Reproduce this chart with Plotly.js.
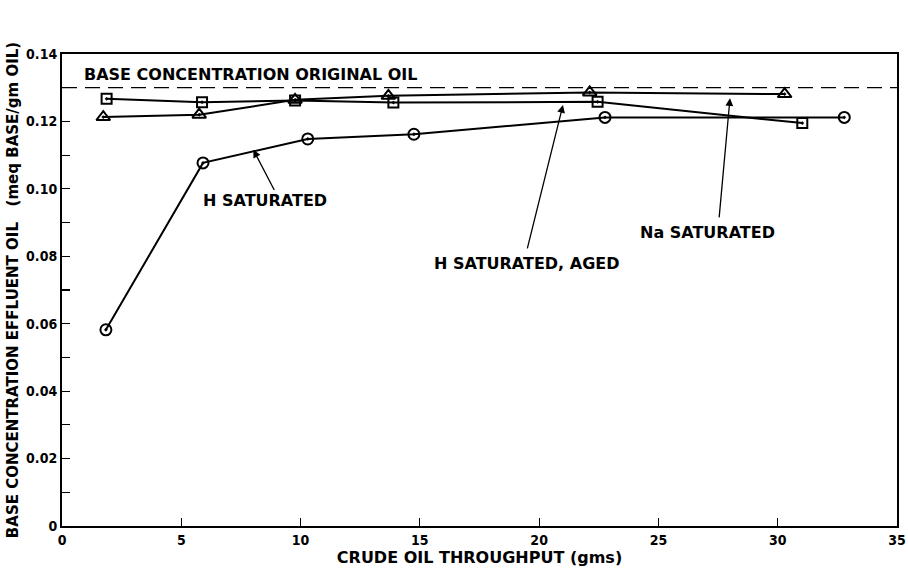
<!DOCTYPE html>
<html>
<head>
<meta charset="utf-8">
<script src="https://cdn.plot.ly/plotly-3.0.1.min.js"></script>
<style>html,body{margin:0;padding:0;background:#fff;}#chart{width:908px;height:569px;}</style>
</head>
<body>
<div id="chart"></div>
<script>
// H SATURATED (circles)
const hSatX = [1.84, 5.91, 10.30, 14.75, 22.76, 32.79];
const hSatY = [0.0582, 0.1077, 0.1148, 0.1162, 0.1212, 0.1212];
// H SATURATED, AGED (squares)
const hAgedX = [1.87, 5.87, 9.77, 13.89, 22.45, 31.03];
const hAgedY = [0.1267, 0.1257, 0.1262, 0.1256, 0.1258, 0.1195];
// Na SATURATED (triangles)
const naSatX = [1.73, 5.75, 9.77, 13.68, 22.12, 30.29];
const naSatY = [0.1213, 0.1220, 0.1264, 0.1276, 0.1286, 0.1281];
// Base concentration of original oil
const baseConcX = [0, 35];
const baseConcY = [0.13, 0.13];

const xTickVals = [0, 5, 10, 15, 20, 25, 30, 35];
const xTickText = ['0', '5', '10', '15', '20', '25', '30', '35'];
const yTickVals = [0, 0.02, 0.04, 0.06, 0.08, 0.10, 0.12, 0.14];
const yTickText = ['0', '0.02', '0.04', '0.06', '0.08', '0.10', '0.12', '0.14'];

const annFont = {family: 'DejaVu Sans, Arial, sans-serif', size: 16, color: '#000', weight: 'bold'};
const xTitleFont = {family: 'DejaVu Sans, Arial, sans-serif', size: 16, color: '#000', weight: 'bold'};
const yTitleFont = {family: 'DejaVu Sans, Arial, sans-serif', size: 15, color: '#000', weight: 'bold'};
const tickFont = {family: 'DejaVu Sans Condensed, Liberation Sans Narrow, Arial Narrow, sans-serif', size: 14, color: '#000', weight: 'bold'};

const lineStyle = {color: '#000', width: 2};
const traces = [
  {x: baseConcX, y: baseConcY, mode: 'lines', line: {color: '#000', width: 1.3, dash: '15px,8px'}, hoverinfo: 'skip'},
  {x: hSatX, y: hSatY, mode: 'lines+markers', line: lineStyle,
   marker: {symbol: 'circle-open-dot', size: 11, color: '#000', line: {color: '#000', width: 2}}},
  {x: hAgedX, y: hAgedY, mode: 'lines+markers', line: lineStyle,
   marker: {symbol: 'square-open-dot', size: 10, color: '#000', line: {color: '#000', width: 2}}},
  {x: naSatX, y: naSatY, mode: 'lines+markers', line: lineStyle,
   marker: {symbol: 'triangle-up-open-dot', size: 12, color: '#000', line: {color: '#000', width: 2}}}
];

const arrowBase = {xref: 'x', yref: 'y', axref: 'x', ayref: 'y', text: '', showarrow: true,
  arrowhead: 2, arrowsize: 1.2, arrowwidth: 1.3, arrowcolor: '#000'};

const layout = {
  width: 908, height: 569,
  margin: {l: 62, r: 11, t: 54, b: 43},
  paper_bgcolor: '#fff', plot_bgcolor: '#fff',
  showlegend: false,
  xaxis: {
    range: [0, 35], tickvals: xTickVals, ticktext: xTickText,
    ticks: 'inside', ticklen: 8, tickwidth: 1.2, tickcolor: '#000',
    showline: true, linecolor: '#000', linewidth: 2, mirror: true,
    showgrid: false, zeroline: false, tickfont: tickFont,
    title: {text: 'CRUDE OIL THROUGHPUT (gms)', font: xTitleFont, standoff: 2}
  },
  yaxis: {
    range: [0, 0.14], tickvals: yTickVals, ticktext: yTickText,
    ticks: 'inside', ticklen: 8, tickwidth: 1.2, tickcolor: '#000',
    minor: {ticks: 'inside', dtick: 0.01, ticklen: 8, tickwidth: 1.2, tickcolor: '#000', showgrid: false},
    showline: true, linecolor: '#000', linewidth: 2, mirror: true,
    showgrid: false, zeroline: false, tickfont: tickFont,
    title: {text: 'BASE CONCENTRATION EFFLUENT OIL\u00A0\u00A0\u00A0(meq BASE/gm OIL)', font: yTitleFont, standoff: 4}
  },
  annotations: [
    {xref: 'x', yref: 'y', x: 0.84, y: 0.1338, xanchor: 'left', yanchor: 'middle', showarrow: false,
     text: 'BASE CONCENTRATION ORIGINAL OIL', font: annFont},
    {xref: 'x', yref: 'y', x: 8.51, y: 0.0964, xanchor: 'center', yanchor: 'middle', showarrow: false,
     text: 'H SATURATED', font: annFont},
    {xref: 'x', yref: 'y', x: 19.49, y: 0.0780, xanchor: 'center', yanchor: 'middle', showarrow: false,
     text: 'H SATURATED, AGED', font: annFont},
    {xref: 'x', yref: 'y', x: 27.07, y: 0.0870, xanchor: 'center', yanchor: 'middle', showarrow: false,
     text: 'Na SATURATED', font: annFont},
    Object.assign({}, arrowBase, {x: 8.02, y: 0.1116, ax: 8.93, ay: 0.0992}),
    Object.assign({}, arrowBase, {x: 21.0, y: 0.1249, ax: 19.49, ay: 0.0819}),
    Object.assign({}, arrowBase, {x: 28.0, y: 0.1269, ax: 27.54, ay: 0.0911})
  ]
};

Plotly.newPlot('chart', traces, layout, {displayModeBar: false, staticPlot: true});
</script>
</body>
</html>
